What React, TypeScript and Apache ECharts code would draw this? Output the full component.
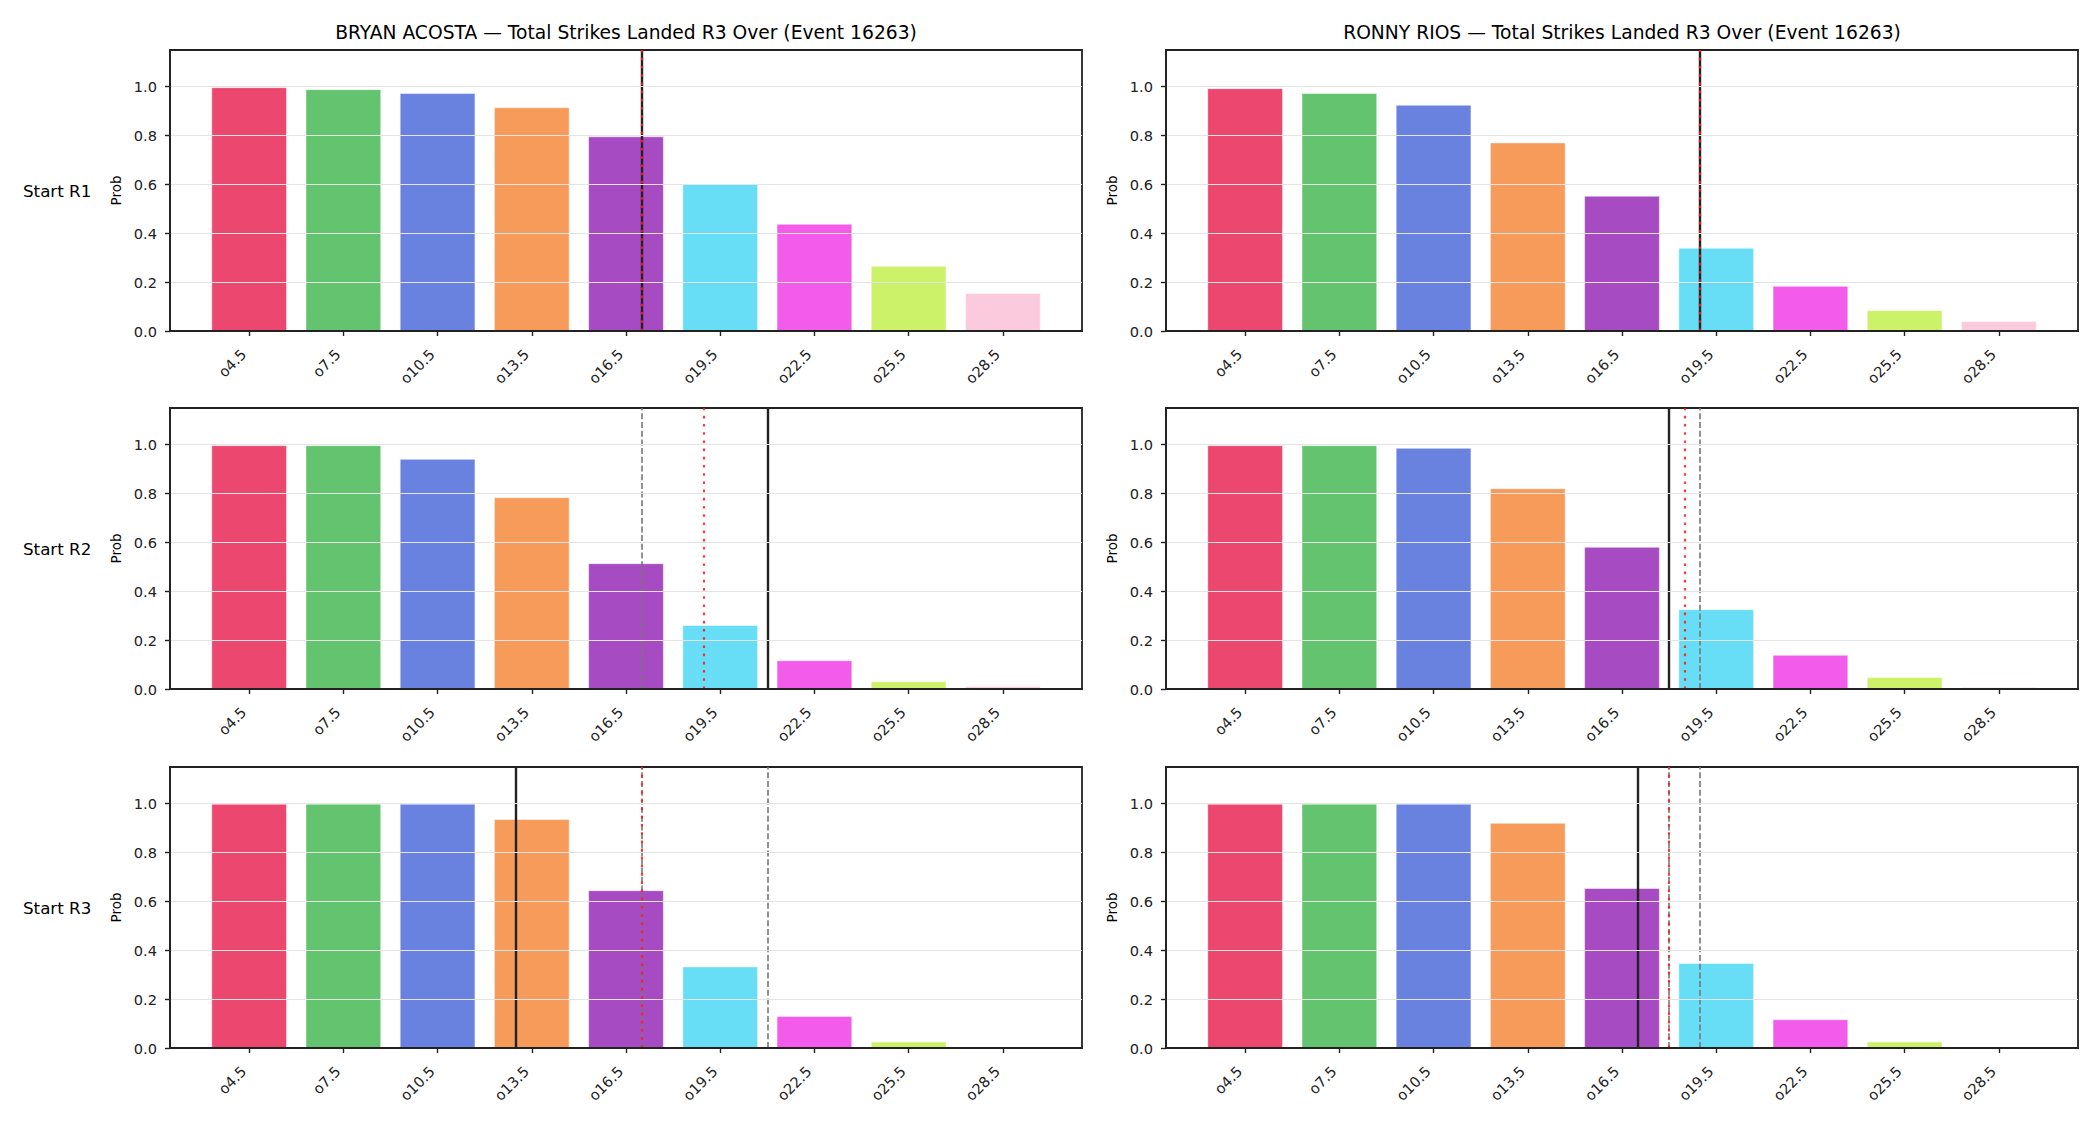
import React, { useEffect, useRef } from "react";
import * as echarts from "echarts";

const FIG_W = 2100;
const FIG_H = 1125;
const FONT = "'DejaVu Sans', 'Liberation Sans', sans-serif";

// Over lines on the x axis
const LINE_LABELS = ["o4.5", "o7.5", "o10.5", "o13.5", "o16.5", "o19.5", "o22.5", "o25.5", "o28.5"];
const BAR_COLORS = ["#e6194b", "#3cb44b", "#4363d8", "#f58231", "#911eb4", "#42d4f4", "#f032e6", "#bfef45", "#fabed4"];
const FIGHTERS = ["BRYAN ACOSTA", "RONNY RIOS"];
const MARKET = "Total Strikes Landed R3 Over";
const EVENT_ID = 16263;
const ROW_LABELS = ["Start R1", "Start R2", "Start R3"];
const Y_TICKS = [0, 0.2, 0.4, 0.6, 0.8, 1.0];

// P(over) per line, one array per fighter and starting round
const ACOSTA_R1 = [0.997, 0.989, 0.973, 0.915, 0.796, 0.603, 0.438, 0.266, 0.155];
const ACOSTA_R2 = [0.997, 0.997, 0.941, 0.784, 0.514, 0.261, 0.117, 0.031, 0.011];
const ACOSTA_R3 = [0.999, 0.999, 0.999, 0.936, 0.645, 0.333, 0.130, 0.026, 0.005];
const RIOS_R1 = [0.993, 0.973, 0.925, 0.771, 0.553, 0.340, 0.184, 0.085, 0.040];
const RIOS_R2 = [0.997, 0.997, 0.986, 0.821, 0.581, 0.326, 0.139, 0.048, 0.007];
const RIOS_R3 = [0.999, 0.999, 0.999, 0.921, 0.654, 0.347, 0.117, 0.026, 0.005];

// Reference markers in strikes, per starting round
const ACOSTA_PROJ = [17, 21, 13];        // solid black
const ACOSTA_BLEND = [17, 19, 17];       // red dotted
const ACOSTA_PRIOR = [[], [17], [17, 21]]; // grey dashed
const RIOS_PROJ = [19, 18, 17];
const RIOS_BLEND = [19, 18.5, 18];
const RIOS_PRIOR = [[], [19], [18, 19]];

const PANELS = [
  { fighter: 0, row: 0, values: ACOSTA_R1, proj: ACOSTA_PROJ[0], blend: ACOSTA_BLEND[0], prior: ACOSTA_PRIOR[0] },
  { fighter: 0, row: 1, values: ACOSTA_R2, proj: ACOSTA_PROJ[1], blend: ACOSTA_BLEND[1], prior: ACOSTA_PRIOR[1] },
  { fighter: 0, row: 2, values: ACOSTA_R3, proj: ACOSTA_PROJ[2], blend: ACOSTA_BLEND[2], prior: ACOSTA_PRIOR[2] },
  { fighter: 1, row: 0, values: RIOS_R1, proj: RIOS_PROJ[0], blend: RIOS_BLEND[0], prior: RIOS_PRIOR[0] },
  { fighter: 1, row: 1, values: RIOS_R2, proj: RIOS_PROJ[1], blend: RIOS_BLEND[1], prior: RIOS_PRIOR[1] },
  { fighter: 1, row: 2, values: RIOS_R3, proj: RIOS_PROJ[2], blend: RIOS_BLEND[2], prior: RIOS_PRIOR[2] },
];

// Layout of the 3x2 panel grid
const COL_LEFT = [170, 1166];
const ROW_TOP = [50, 408, 767];
const PANEL_W = 912;
const PANEL_H = 281;
const X_MIN = -0.84;
const X_MAX = 8.84;
const Y_MAX = 1.15;

const LINE_POINTS = LINE_LABELS.map((l) => parseFloat(l.slice(1)));
const LINE_STEP = LINE_POINTS[1] - LINE_POINTS[0];
const toAxis = (strikes: number) => (strikes - LINE_POINTS[0]) / LINE_STEP;

const INK = "#222222";

function buildOption() {
  const unitPx = PANEL_W / (X_MAX - X_MIN);
  const grid: any[] = [];
  const xAxis: any[] = [];
  const yAxis: any[] = [];
  const series: any[] = [];
  const graphic: any[] = [];

  PANELS.forEach((p, k) => {
    grid.push({
      left: COL_LEFT[p.fighter],
      top: ROW_TOP[p.row],
      width: PANEL_W,
      height: PANEL_H,
      show: true,
      borderColor: INK,
      borderWidth: 1.8,
      backgroundColor: "transparent",
      containLabel: false,
    });
    xAxis.push({
      type: "value",
      gridIndex: k,
      min: X_MIN,
      max: X_MAX,
      z: 10,
      axisLine: { show: true, onZero: false, lineStyle: { color: INK, width: 1.8 } },
      axisTick: { show: true, length: 5, lineStyle: { color: INK, width: 1.4 }, customValues: LINE_LABELS.map((_, i) => i) },
      axisLabel: {
        show: true,
        customValues: LINE_LABELS.map((_, i) => i),
        formatter: (v: number) => LINE_LABELS[Math.round(v)] ?? "",
        rotate: 45,
        margin: 15,
        padding: [0, 8, 0, 0],
        color: INK,
        fontFamily: FONT,
        fontSize: 14.6,
      },
      splitLine: { show: false },
    });
    yAxis.push({
      type: "value",
      gridIndex: k,
      min: 0,
      max: Y_MAX,
      z: 10,
      axisLine: { show: true, onZero: false, lineStyle: { color: INK, width: 1.8 } },
      axisTick: { show: true, length: 5, lineStyle: { color: INK, width: 1.4 }, customValues: Y_TICKS },
      axisLabel: {
        show: true,
        customValues: Y_TICKS,
        formatter: (v: number) => v.toFixed(1),
        margin: 13,
        color: INK,
        fontFamily: FONT,
        fontSize: 14.6,
      },
      splitLine: { show: true, lineStyle: { color: "#e4e4e4", width: 1 } },
    });

    const marks: any[] = [];
    p.prior.forEach((v: number) =>
      marks.push({ xAxis: toAxis(v), lineStyle: { color: "#777777", width: 1.6, type: [6, 2.7], opacity: 1 } })
    );
    marks.push({ xAxis: toAxis(p.proj), lineStyle: { color: INK, width: 2.4, type: "solid", opacity: 1 } });
    marks.push({ xAxis: toAxis(p.blend), lineStyle: { color: "#ff1a1a", width: 2.2, type: [2.6, 5.6], opacity: 0.85 } });

    series.push({
      type: "bar",
      xAxisIndex: k,
      yAxisIndex: k,
      barWidth: 0.8 * unitPx,
      data: p.values.map((v, i) => ({ value: [i, v], itemStyle: { color: BAR_COLORS[i] } })),
      itemStyle: { opacity: 0.8, borderColor: "#ffffff", borderWidth: 0.6 },
      emphasis: { disabled: true },
      markLine: {
        silent: true,
        symbol: ["none", "none"],
        label: { show: false },
        emphasis: { disabled: true },
        data: marks,
      },
    });

    // y-axis name
    graphic.push({
      type: "text",
      x: COL_LEFT[p.fighter] - 54,
      y: ROW_TOP[p.row] + PANEL_H / 2,
      rotation: Math.PI / 2,
      style: {
        text: "Prob",
        fill: "#000",
        font: `13.5px ${FONT}`,
        textAlign: "center",
        textVerticalAlign: "middle",
      },
    });
  });

  // Column titles
  FIGHTERS.forEach((name, c) => {
    graphic.push({
      type: "text",
      x: COL_LEFT[c] + PANEL_W / 2,
      y: 32,
      style: {
        text: `${name} — ${MARKET} (Event ${EVENT_ID})`,
        fill: "#000",
        font: `18.7px ${FONT}`,
        textAlign: "center",
        textVerticalAlign: "middle",
      },
    });
  });

  // Row labels
  ROW_LABELS.forEach((label, r) => {
    graphic.push({
      type: "text",
      x: 23,
      y: ROW_TOP[r] + PANEL_H / 2,
      style: {
        text: label,
        fill: "#000",
        font: `16.7px ${FONT}`,
        textAlign: "left",
        textVerticalAlign: "middle",
      },
    });
  });

  return {
    animation: false,
    backgroundColor: "#ffffff",
    textStyle: { fontFamily: FONT },
    grid,
    xAxis,
    yAxis,
    series,
    graphic,
  };
}

export default function App() {
  const ref = useRef<HTMLDivElement>(null);
  useEffect(() => {
    if (!ref.current) return;
    const chart = echarts.init(ref.current, undefined, { renderer: "svg", width: FIG_W, height: FIG_H });
    chart.setOption(buildOption());
    return () => chart.dispose();
  }, []);
  return (
    <div
      ref={ref}
      style={{ position: "fixed", left: 0, top: 0, width: FIG_W, height: FIG_H, background: "#fff" }}
    />
  );
}
